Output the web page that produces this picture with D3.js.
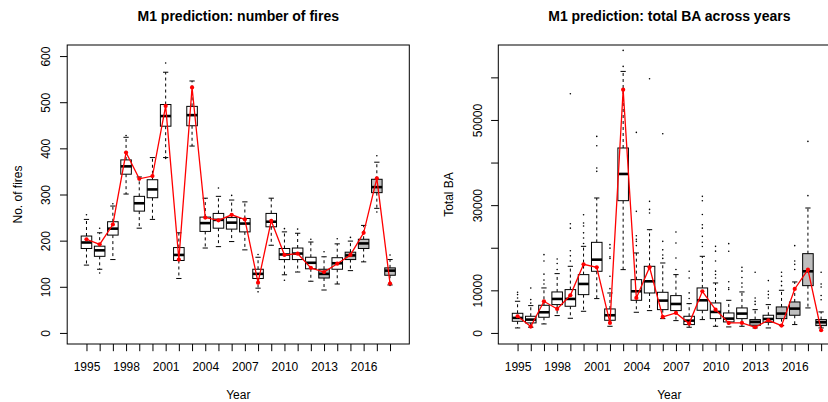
<!DOCTYPE html>
<html><head><meta charset="utf-8">
<script src="https://cdn.jsdelivr.net/npm/d3@7"></script>
<style>body{margin:0;background:#fff} svg{display:block}</style>
</head><body>
<script>
// ---------- data ----------
const years = [1995,1996,1997,1998,1999,2000,2001,2002,2003,2004,2005,2006,2007,2008,2009,2010,2011,2012,2013,2014,2015,2016,2017,2018];
const shadedYears = [2013,2015,2016,2017,2018];
const xTickLabels = [1995,1998,2001,2004,2007,2010,2013,2016];

// Panel 1: number of fires
const firesLowWhisker = [147,138,159,301,227,246,380,118,405,184,187,198,180,97,190,126,132,112,93,106,135,154,270,104];
const firesQ1         = [183,166,212,344,264,293,448,157,449,220,227,225,219,118,230,159,159,139,119,138,159,183,304,125];
const firesMedian     = [196,179,226,361,281,311,470,169,472,238,245,239,237,128,241,170,172,152,128,151,168,194,316,135];
const firesQ3         = [210,188,241,375,296,332,495,185,491,251,259,250,248,138,259,183,184,164,138,163,175,203,333,141];
const firesUpWhisker  = [246,217,275,424,338,380,565,217,546,292,296,288,284,164,292,219,216,197,165,193,199,233,370,159];
const firesObserved   = [203,192,235,391,334,340,492,159,532,250,244,256,246,109,243,169,172,141,132,150,169,217,335,107];
const firesOutliers   = [[256],[227,130],[280],[428],[],[],[585,378],[],[],[],[314],[298],[],[170,89],[],[226,114],[225],[203],[176],[204],[207],[],[384,262],[169,103]];
const firesYTicks = [0,100,200,300,400,500,600];

// Panel 2: total burned area
const baLowWhisker = [1170,1330,2110,4070,3440,5080,8060,1560,14860,4850,5240,3360,2890,1330,3130,1560,1410,1560,1170,1170,1720,1960,5870,1170];
const baQ1         = [2740,2350,3680,6650,6260,8990,14470,2970,31050,7660,9380,5470,5240,1960,5320,3360,2580,3360,1800,2500,3360,4150,11100,1720];
const baMedian     = [3520,3130,4850,7980,7980,11500,17200,4150,37320,9780,12120,7590,6800,2890,7660,4930,3360,4540,2580,3280,4540,5710,14470,2500];
const baQ3         = [4610,3910,6490,9620,10170,13690,21270,5630,43420,12510,15640,9540,8760,3910,10560,7040,4690,5870,3130,4150,6100,7270,18610,3130];
const baUpWhisker  = [7430,6410,10560,13920,15640,20330,31680,9380,61400,18770,24240,16420,13690,6880,17990,11730,7660,9620,5470,6650,10010,11970,29330,4930];
const baObserved   = [3910,1490,7430,5630,8840,16110,15410,2350,57100,8210,15410,3750,4690,2190,9780,5470,2350,2350,1330,2970,1720,10320,14860,630];
const baOutliers   = [
  [8200,9000,9540],[7000,7820,10560],[11500,12400,13800,16900,18380],[14900,16300,17360],
  [16900,18100,19300,24600,25650,56160],[21000,22300,23500,25100,25800,27760],[37930,38730,43960,46140],
  [10400,13300,17500,17900,19900,20720],[62570,66330],[20500,21500,22000,22830,28540,47080],
  [28150,29000,30890,59680],[17500,18300,19500,21500,46780],[14900,17600,21100,23700],
  [8100,9400,12900,14470],[20300,21300,22680,24600,25400,27800,31050,32060],[12900,13700,14500,16900,19200,20330],
  [10200,10600,12000,19160,20960],[10800,11700,13000,14500,15400],[6700,7400,8200,14230],
  [8200,9000,9800,12280],[11100,12100,13300,14230],[14900,16100,16900,20490],[32230,44970],[7800,8800,10800,11500,14230]];
const baYTicks = [0,10000,20000,30000,40000,50000,60000];
const baYTickLabels = [0,10000,30000,50000];

// ---------- drawing ----------
const W = 828, H = 402;
const FONT = "'Liberation Sans', Arial, Helvetica, sans-serif";
const svg = d3.select("body").append("svg").attr("width", W).attr("height", H)
  .style("font-family", FONT);

function panel(cfg) {
  const {left, top, width, height, yDomain, yTicks, yLabels, title, yTitle, yTitleX, d} = cfg;
  const g = svg.append("g");
  const x = d3.scaleLinear().domain([years[0]-1.46, years[years.length-1]+1.46]).range([left, left+width]);
  const y = d3.scaleLinear().domain(yDomain).range([top+height, top]);
  const bw = 0.8 * (x(1) - x(0));

  // boxes
  years.forEach((yr, i) => {
    const cx = x(yr);
    const shaded = shadedYears.includes(yr);
    // whiskers (dashed)
    g.append("line").attr("x1", cx).attr("x2", cx).attr("y1", y(d.q3[i])).attr("y2", y(d.up[i]))
      .attr("stroke", "#000").attr("stroke-width", 1).attr("stroke-dasharray", "3,3");
    g.append("line").attr("x1", cx).attr("x2", cx).attr("y1", y(d.q1[i])).attr("y2", y(d.low[i]))
      .attr("stroke", "#000").attr("stroke-width", 1).attr("stroke-dasharray", "3,3");
    // staples
    [d.up[i], d.low[i]].forEach(v => {
      g.append("line").attr("x1", cx - bw/4).attr("x2", cx + bw/4).attr("y1", y(v)).attr("y2", y(v))
        .attr("stroke", "#000").attr("stroke-width", 1);
    });
    // box
    g.append("rect").attr("x", cx - bw/2).attr("y", y(d.q3[i]))
      .attr("width", bw).attr("height", y(d.q1[i]) - y(d.q3[i]))
      .attr("fill", shaded ? "#bebebe" : "#fff").attr("stroke", "#000").attr("stroke-width", 1);
    // median
    g.append("line").attr("x1", cx - bw/2).attr("x2", cx + bw/2).attr("y1", y(d.med[i])).attr("y2", y(d.med[i]))
      .attr("stroke", "#000").attr("stroke-width", 2.6);
    // outliers
    d.out[i].forEach(v => {
      g.append("circle").attr("cx", cx).attr("cy", y(v)).attr("r", 0.8).attr("fill", "#000");
    });
  });

  // observed line
  const line = d3.line().x((v, i) => x(years[i])).y(v => y(v));
  g.append("path").datum(d.obs).attr("d", line).attr("fill", "none")
    .attr("stroke", "#ff0000").attr("stroke-width", 1.3);
  g.selectAll(null).data(d.obs).enter().append("circle")
    .attr("cx", (v, i) => x(years[i])).attr("cy", v => y(v)).attr("r", 2.1).attr("fill", "#ff0000");

  // frame
  g.append("rect").attr("x", left).attr("y", top).attr("width", width).attr("height", height)
    .attr("fill", "none").attr("stroke", "#000").attr("stroke-width", 1);

  // x axis
  const xa = g.append("g").attr("transform", `translate(0,${top+height})`)
    .call(d3.axisBottom(x).tickValues(years).tickSize(7.2)
      .tickFormat(v => xTickLabels.includes(v) ? String(v) : ""));
  xa.select(".domain").remove();
  xa.selectAll(".tick line").attr("stroke", "#000");
  xa.selectAll("text").attr("y", 27).attr("dy", 0).attr("fill", "#000")
    .style("font-size", "12px").style("font-family", FONT);

  // y axis
  const ya = g.append("g").attr("transform", `translate(${left},0)`)
    .call(d3.axisLeft(y).tickValues(yTicks).tickSize(7.2)
      .tickFormat(v => yLabels.includes(v) ? String(v) : ""));
  ya.select(".domain").remove();
  ya.selectAll(".tick line").attr("stroke", "#000");
  ya.selectAll("text").attr("transform", "rotate(-90)").attr("x", 0).attr("y", -16.8).attr("dy", 0)
    .attr("text-anchor", "middle").attr("fill", "#000")
    .style("font-size", "12px").style("font-family", FONT);

  // titles
  svg.append("text").attr("x", left + width/2).attr("y", 21).attr("text-anchor", "middle")
    .style("font-size", "14px").style("font-weight", "bold").text(title);
  svg.append("text").attr("x", left + width/2).attr("y", 399).attr("text-anchor", "middle")
    .style("font-size", "12px").text("Year");
  svg.append("text").attr("transform", `translate(${yTitleX},${top + height/2}) rotate(-90)`)
    .attr("text-anchor", "middle").style("font-size", "12px").text(yTitle);
}

panel({
  left: 67.2, top: 45, width: 342.1, height: 299,
  yDomain: [-24, 624], yTicks: firesYTicks, yLabels: firesYTicks,
  title: "M1 prediction: number of fires", yTitle: "No. of fires", yTitleX: 21.7,
  d: {low: firesLowWhisker, q1: firesQ1, med: firesMedian, q3: firesQ3, up: firesUpWhisker, obs: firesObserved, out: firesOutliers}
});
panel({
  left: 498.3, top: 45, width: 342.1, height: 299,
  yDomain: [-2600, 67600], yTicks: baYTicks, yLabels: baYTickLabels,
  title: "M1 prediction: total BA across years", yTitle: "Total BA", yTitleX: 453.3,
  d: {low: baLowWhisker, q1: baQ1, med: baMedian, q3: baQ3, up: baUpWhisker, obs: baObserved, out: baOutliers}
});
</script>
</body></html>
